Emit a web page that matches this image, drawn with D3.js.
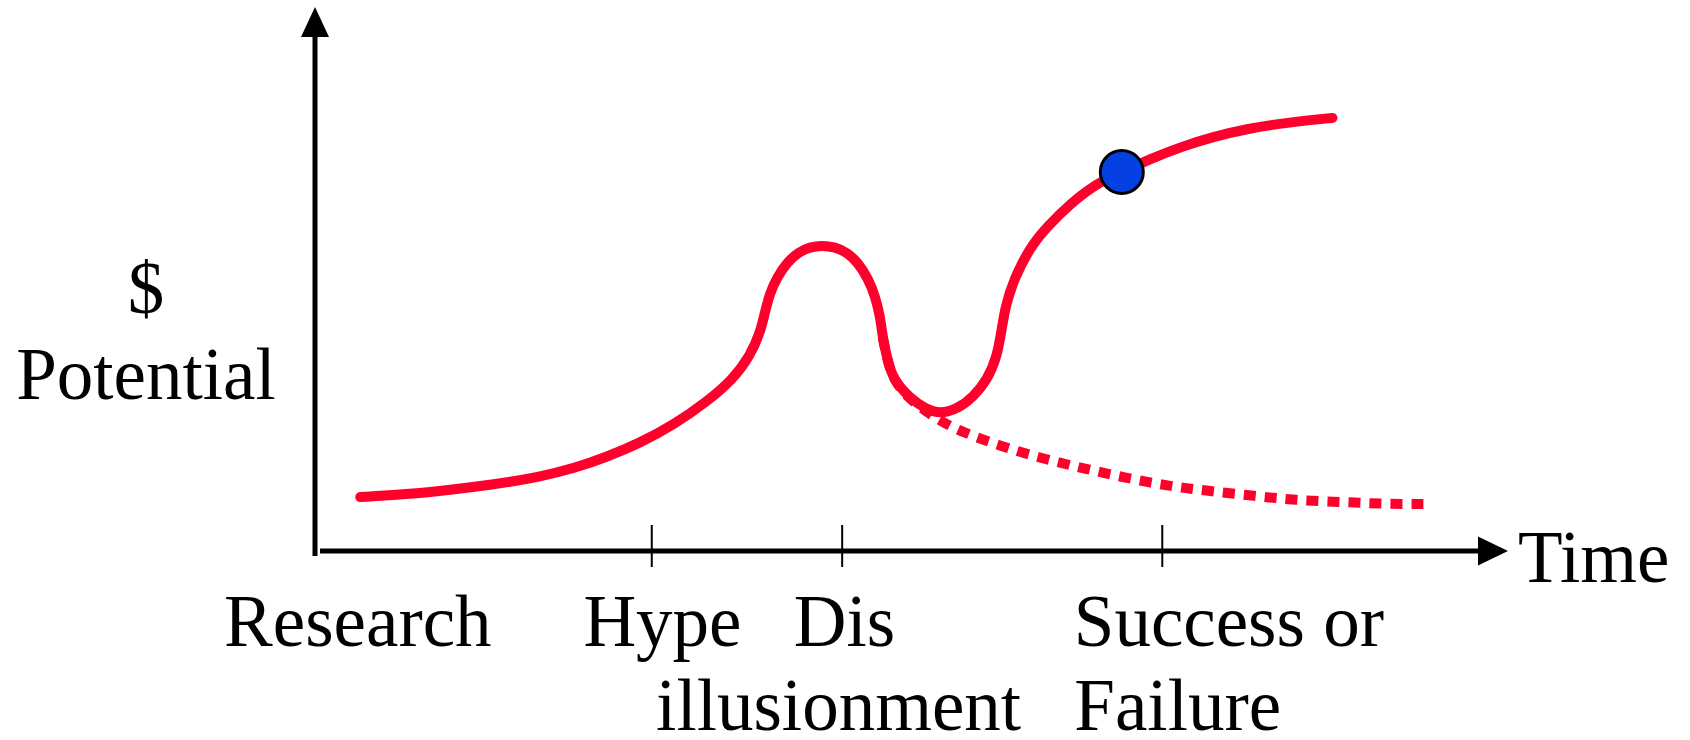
<!DOCTYPE html>
<html>
<head>
<meta charset="utf-8">
<script src="https://cdn.jsdelivr.net/npm/d3@7"></script>
<style>
  html, body { margin: 0; padding: 0; background: #fff; }
  svg { display: block; }
  text { font-family: "Liberation Serif", "Times New Roman", serif; fill: #000; }
</style>
</head>
<body>
<svg></svg>
<script>
// hype curve (time 0-100, potential 0-100)
var hypeTime = [3.8, 7.1, 10.5, 14.7, 18.9, 21.9, 24.5, 27.3, 30.1, 32.9, 35.1, 36.6, 37.4, 37.8,
                38.2, 38.8, 39.7, 40.6, 41.6, 42.6, 43.7, 44.7, 45.6, 46.5, 47.1, 47.5, 47.7, 48.1,
                48.6, 50.0, 51.3, 52.5, 54.0, 55.3, 56.5, 57.3, 57.7, 58.0, 58.7, 60.1, 61.5, 63.5,
                65.8, 67.8, 70.2, 72.7, 75.5, 78.3, 81.9, 85.5];
var hypeValue = [10.0, 10.4, 11.1, 12.2, 13.7, 15.4, 17.4, 20.0, 23.3, 27.6, 31.7, 36.3, 40.4, 44.1,
                 47.6, 50.6, 53.5, 55.3, 56.3, 56.6, 56.3, 55.3, 53.5, 50.4, 47.0, 43.3, 39.6, 35.4,
                 31.7, 28.3, 26.3, 25.4, 26.3, 28.5, 31.7, 35.9, 40.9, 45.2, 50.2, 56.3, 60.0, 64.4,
                 68.2, 70.2, 72.6, 74.8, 76.7, 78.2, 79.4, 80.2];

// failure branch (dotted)
var failTime = [47.7, 48.1, 48.6, 50.0, 51.3, 52.7, 54.4, 57.8, 61.3, 64.8, 68.2, 71.8, 75.2, 79.0, 82.4, 86.2, 89.7, 93.5];
var failValue = [39.6, 35.4, 31.6, 28.1, 25.9, 23.9, 22.0, 19.3, 17.0, 15.2, 13.5, 12.0, 11.1, 10.2, 9.4, 9.1, 8.7, 8.7];

// "you are here" marker
var markerTime = 67.8;
var markerValue = 70.2;

// phase ticks and labels
var tickTimes = [28.3, 44.3, 71.2];
var phaseLabels = ["Research", "Hype", "Dis", "illusionment", "Success or", "Failure"];
var phaseTimes = [3.6, 29.2, 44.5, 44.0, 76.8, 72.5];
var phaseRows = [0, 0, 0, 1, 0, 1];

var yLabels = ["$", "Potential"];
var xLabel = "Time";

var svgWidth = 1690;
var svgHeight = 740;
var red = "#ff002d";

var svg = d3.select("svg")
    .attr("width", svgWidth)
    .attr("height", svgHeight);

var x = d3.scaleLinear().domain([0, 100]).range([315, 1505]);
var y = d3.scaleLinear().domain([0, 100]).range([551, 11]);

var axisY = y(0), axisX = x(0);

// axes
svg.append("line")
    .attr("x1", axisX).attr("x2", axisX)
    .attr("y1", axisY + 5).attr("y2", 34)
    .attr("stroke", "#000").attr("stroke-width", 5);
svg.append("path")
    .attr("d", "M" + axisX + ",7 L" + (axisX - 14) + ",37 L" + (axisX + 14) + ",37 Z")
    .attr("fill", "#000");

svg.append("line")
    .attr("x1", axisX + 5).attr("x2", 1480)
    .attr("y1", axisY).attr("y2", axisY)
    .attr("stroke", "#000").attr("stroke-width", 5);
svg.append("path")
    .attr("d", "M1508," + axisY + " L1478," + (axisY - 14.5) + " L1478," + (axisY + 14.5) + " Z")
    .attr("fill", "#000");

svg.selectAll("line.tick")
    .data(tickTimes)
    .enter()
    .append("line")
    .attr("class", "tick")
    .attr("x1", function(d) { return x(d); })
    .attr("x2", function(d) { return x(d); })
    .attr("y1", axisY - 26)
    .attr("y2", axisY + 16)
    .attr("stroke", "#000")
    .attr("stroke-width", 2);

// curves
var line = d3.line()
    .x(function(d) { return x(d[0]); })
    .y(function(d) { return y(d[1]); })
    .curve(d3.curveBasis);

var failData = d3.zip(failTime, failValue);
var hypeData = d3.zip(hypeTime, hypeValue);

svg.append("path")
    .attr("d", line(failData))
    .attr("fill", "none")
    .attr("stroke", red)
    .attr("stroke-width", 10)
    .attr("stroke-dasharray", "12,9");

svg.append("path")
    .attr("d", line(hypeData))
    .attr("fill", "none")
    .attr("stroke", red)
    .attr("stroke-width", 10)
    .attr("stroke-linecap", "round")
    .attr("stroke-linejoin", "round");

svg.append("circle")
    .attr("cx", x(markerTime))
    .attr("cy", y(markerValue))
    .attr("r", 21.5)
    .attr("fill", "#0440e2")
    .attr("stroke", "#000")
    .attr("stroke-width", 3);

// labels
svg.selectAll("text.phase")
    .data(phaseLabels)
    .enter()
    .append("text")
    .attr("class", "phase")
    .attr("x", function(d, i) { return x(phaseTimes[i]); })
    .attr("y", function(d, i) { return 646 + phaseRows[i] * 84; })
    .attr("text-anchor", "middle")
    .attr("font-size", 73)
    .text(function(d) { return d; });

svg.selectAll("text.ylab")
    .data(yLabels)
    .enter()
    .append("text")
    .attr("class", "ylab")
    .attr("x", 146)
    .attr("y", function(d, i) { return 313 + i * 86; })
    .attr("text-anchor", "middle")
    .attr("font-size", 73)
    .text(function(d) { return d; });

svg.append("text")
    .attr("x", 1518)
    .attr("y", 582)
    .attr("font-size", 73)
    .text(xLabel);
</script>
</body>
</html>
